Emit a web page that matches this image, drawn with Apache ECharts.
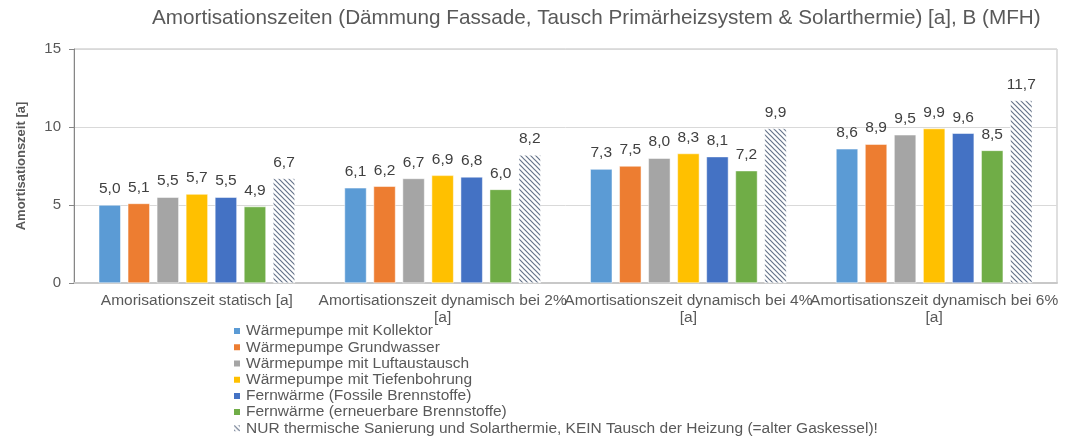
<!DOCTYPE html>
<html>
<head>
<meta charset="utf-8">
<script src="https://cdn.jsdelivr.net/npm/echarts@6/dist/echarts.min.js"></script>
<style>
  html, body { margin: 0; padding: 0; background: #fff; }
  #chart { width: 1078px; height: 438px; }
</style>
</head>
<body>
<div id="chart"></div>
<script>
// Categories along the x axis
const categories = [
  'Amorisationszeit statisch [a]',
  'Amortisationszeit dynamisch bei 2%\n[a]',
  'Amortisationszeit dynamisch bei 4%\n[a]',
  'Amortisationszeit dynamisch bei 6%\n[a]'
];

// Series names (legend order)
const seriesNames = [
  'Wärmepumpe mit Kollektor',
  'Wärmepumpe Grundwasser',
  'Wärmepumpe mit Luftaustausch',
  'Wärmepumpe mit Tiefenbohrung',
  'Fernwärme (Fossile Brennstoffe)',
  'Fernwärme (erneuerbare Brennstoffe)',
  'NUR thermische Sanierung und Solarthermie, KEIN Tausch der Heizung (=alter Gaskessel)!'
];

// Payback times in years, one array per series
const wpKollektor    = [5.0, 6.1, 7.3, 8.6];
const wpGrundwasser  = [5.1, 6.2, 7.5, 8.9];
const wpLuft         = [5.5, 6.7, 8.0, 9.5];
const wpTiefe        = [5.7, 6.9, 8.3, 9.9];
const fwFossil       = [5.5, 6.8, 8.1, 9.6];
const fwErneuerbar   = [4.9, 6.0, 7.2, 8.5];
const nurSanierung   = [6.7, 8.2, 9.9, 11.7];

const yTicks = [0, 5, 10, 15];

const seriesData = [wpKollektor, wpGrundwasser, wpLuft, wpTiefe, fwFossil, fwErneuerbar, nurSanierung];

// Diagonal hatch fill for the last series
function hatchPattern() {
  const s = 5;
  const c = document.createElement('canvas');
  c.width = s; c.height = s;
  const g = c.getContext('2d');
  g.fillStyle = '#ffffff';
  g.fillRect(0, 0, s, s);
  g.strokeStyle = '#66748a';
  g.lineWidth = 1.2;
  g.beginPath();
  g.moveTo(-1, -1); g.lineTo(s + 1, s + 1);
  g.moveTo(-1 - s, -1); g.lineTo(1, s + 1);
  g.moveTo(s - 1, -1); g.lineTo(2 * s + 1, s + 1);
  g.stroke();
  return { image: c, repeat: 'repeat' };
}

const colors = ['#5B9BD5', '#ED7D31', '#A5A5A5', '#FFC000', '#4472C4', '#70AD47', hatchPattern()];

const font = 'Liberation Sans, Arial, sans-serif';

const chart = echarts.init(document.getElementById('chart'), null, { renderer: 'canvas' });

chart.setOption({
  animation: false,
  textStyle: { fontFamily: font },
  title: {
    text: 'Amortisationszeiten (Dämmung Fassade, Tausch Primärheizsystem & Solarthermie) [a], B (MFH)',
    left: 152,
    top: 8,
    padding: 0,
    textStyle: { fontFamily: font, fontSize: 20.7, fontWeight: 'normal', color: '#595959' }
  },
  legend: {
    orient: 'vertical',
    left: 232,
    top: 323,
    height: 130,
    padding: 0,
    itemWidth: 8,
    itemHeight: 8,
    itemGap: 0,
    icon: 'rect',
    textStyle: { fontFamily: font, fontSize: 15.5, lineHeight: 16.2, color: '#595959' },
    data: seriesNames
  },
  grid: { left: 74, right: 21, top: 49, bottom: 155, containLabel: false, show: true, borderColor: '#BFBFBF', borderWidth: 1 },
  xAxis: {
    type: 'category',
    data: categories,
    axisTick: { show: false },
    axisLine: { lineStyle: { color: '#C8C8C8', width: 2 } },
    axisLabel: { interval: 0, color: '#595959', fontSize: 15.5, fontFamily: font, lineHeight: 17, margin: 9 }
  },
  yAxis: {
    type: 'value',
    min: yTicks[0],
    max: yTicks[yTicks.length - 1],
    interval: 5,
    name: 'Amortisationszeit [a]',
    nameLocation: 'middle',
    nameGap: 46,
    nameTextStyle: { fontFamily: font, fontSize: 13, fontWeight: 'bold', color: '#595959' },
    axisLine: { show: true, lineStyle: { color: '#868686' } },
    axisTick: { show: true, length: 5, lineStyle: { color: '#868686' } },
    axisLabel: { color: '#595959', fontSize: 15, fontFamily: font, margin: 13 },
    splitLine: { lineStyle: { color: '#D9D9D9' } }
  },
  series: seriesData.map((d, i) => ({
    name: seriesNames[i],
    type: 'bar',
    data: d,
    barWidth: 22,
    barGap: '32%',
    itemStyle: { color: colors[i], borderColor: '#ffffff', borderWidth: 0.5 },
    label: {
      show: true,
      position: 'top',
      distance: 8,
      color: '#404040',
      fontSize: 15.5,
      fontFamily: font,
      formatter: p => p.value.toFixed(1).replace('.', ',')
    }
  }))
});
</script>
</body>
</html>
